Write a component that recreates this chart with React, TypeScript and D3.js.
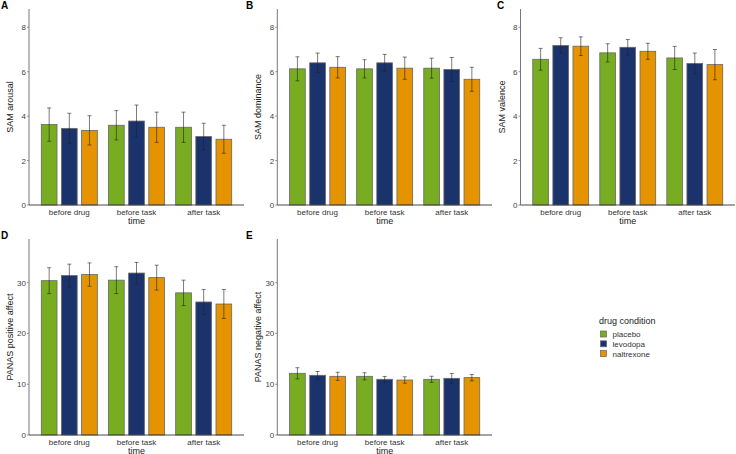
import * as React from 'react'
import * as d3 from 'd3'

const times = ['before drug', 'before task', 'after task']
const conditions = ['placebo', 'levodopa', 'naltrexone']
const colors = ['#78AD22', '#1B336D', '#E59400']

// means [time][condition], err = half width of the error bar
const arousalMean = [[3.62, 3.45, 3.36], [3.59, 3.78, 3.5], [3.5, 3.08, 2.96]]
const arousalErr = [[0.75, 0.68, 0.66], [0.66, 0.72, 0.68], [0.68, 0.6, 0.63]]
const dominanceMean = [[6.13, 6.4, 6.2], [6.13, 6.4, 6.16], [6.16, 6.1, 5.66]]
const dominanceErr = [[0.54, 0.44, 0.48], [0.41, 0.38, 0.5], [0.45, 0.54, 0.54]]
const valenceMean = [[6.56, 7.18, 7.15], [6.85, 7.1, 6.92], [6.62, 6.37, 6.32]]
const valenceErr = [[0.49, 0.35, 0.42], [0.41, 0.35, 0.36], [0.52, 0.47, 0.68]]
const posMean = [[30.4, 31.4, 31.6], [30.5, 31.9, 31.0], [28.0, 26.2, 25.8]]
const posErr = [[2.55, 2.25, 2.3], [2.65, 2.1, 2.45], [2.5, 2.45, 2.85]]
const negMean = [[12.15, 11.76, 11.56], [11.56, 10.97, 10.83], [10.97, 11.16, 11.3]]
const negErr = [[1.1, 0.75, 0.8], [0.7, 0.56, 0.63], [0.6, 0.95, 0.63]]

const samTicks = [0, 2, 4, 6, 8]
const panasTicks = [0, 10, 20, 30]

const font = '"Liberation Sans", Arial, sans-serif'

interface PanelProps {
  letter: string
  label: string
  mean: number[][]
  err: number[][]
  ticks: number[]
  yMax: number
  x0: number
  x1: number
  y0: number
  y1: number
  letterX: number
  letterY: number
}

function Panel(p: PanelProps) {
  const band = d3.scaleLinear().domain([0.4, 3.6]).range([p.x0, p.x1])
  const y = d3.scaleLinear().domain([0, p.yMax]).range([p.y0, p.y1])
  const step = band(2) - band(1)
  const slot = (0.9 * step) / 3
  const bw = slot * 0.78
  const bars: any[] = []
  const errs: any[] = []
  p.mean.forEach((row, ti) => {
    row.forEach((v, ci) => {
      const cx = band(ti + 1) - 1.5 * slot + slot * (ci + 0.5)
      bars.push(
        <rect key={`b${ti}${ci}`} x={cx - bw / 2} y={y(v)} width={bw} height={y(0) - y(v)}
          fill={colors[ci]} stroke="#666" strokeWidth={0.8} />
      )
      const e = p.err[ti][ci]
      const hi = y(v + e), lo = y(v - e)
      errs.push(
        <g key={`e${ti}${ci}`} stroke="#222" strokeOpacity={0.85} strokeWidth={0.7}>
          <line x1={cx} x2={cx} y1={hi} y2={lo} />
          <line x1={cx - 2} x2={cx + 2} y1={hi} y2={hi} />
          <line x1={cx - 2} x2={cx + 2} y1={lo} y2={lo} />
        </g>
      )
    })
  })
  const midY = (p.y0 + p.y1) / 2
  return (
    <g fontFamily={font}>
      <text x={p.letterX} y={p.letterY} fontSize={10} fontWeight="bold" fill="#000">{p.letter}</text>
      {bars}
      {errs}
      <line x1={p.x0} x2={p.x0} y1={p.y1} y2={p.y0} stroke="#777" strokeWidth={1} />
      <line x1={p.x0} x2={p.x1} y1={p.y0} y2={p.y0} stroke="#333" strokeWidth={0.9} />
      {p.ticks.map(t => (
        <g key={t}>
          <line x1={p.x0 - 2} x2={p.x0} y1={y(t)} y2={y(t)} stroke="#777" strokeWidth={0.8} />
          <text x={p.x0 - 3} y={y(t) + 3} fontSize={8} textAnchor="end" fill="#444">{t}</text>
        </g>
      ))}
      {times.map((t, i) => (
        <text key={t} x={band(i + 1)} y={p.y0 + 9.5} fontSize={8} textAnchor="middle" fill="#333">{t}</text>
      ))}
      <text x={band(2)} y={p.y0 + 18.5} fontSize={9} textAnchor="middle" fill="#222">time</text>
      <text transform={`translate(${p.x0 - 16},${midY}) rotate(-90)`} fontSize={9}
        textAnchor="middle" fill="#222">{p.label}</text>
    </g>
  )
}

export default function App() {
  const top = { y0: 205, y1: 9 }
  const bot = { y0: 435, y1: 239 }
  const samMax = (205 - 9) / ((205 - 27.3) / 8)
  const panasMax = (435 - 239) / ((435 - 282.7) / 30)
  return (
    <svg width={736} height={454} style={{ position: 'absolute', left: 0, top: 0, background: '#fff' }}>
      <rect width={736} height={454} fill="#fff" />
      <Panel letter="A" label="SAM arousal" mean={arousalMean} err={arousalErr} ticks={samTicks}
        yMax={samMax} x0={29} x1={244} {...top} letterX={1} letterY={9} />
      <Panel letter="B" label="SAM dominance" mean={dominanceMean} err={dominanceErr} ticks={samTicks}
        yMax={samMax} x0={277.3} x1={492} {...top} letterX={246} letterY={9} />
      <Panel letter="C" label="SAM valence" mean={valenceMean} err={valenceErr} ticks={samTicks}
        yMax={samMax} x0={520.5} x1={735} {...top} letterX={497} letterY={9} />
      <Panel letter="D" label="PANAS positive affect" mean={posMean} err={posErr} ticks={panasTicks}
        yMax={panasMax} x0={29} x1={244} {...bot} letterX={1} letterY={239} />
      <Panel letter="E" label="PANAS negative affect" mean={negMean} err={negErr} ticks={panasTicks}
        yMax={panasMax} x0={277.3} x1={492} {...bot} letterX={246} letterY={239} />
      <g fontFamily={font}>
        <text x={599} y={324} fontSize={9} fill="#222">drug condition</text>
        {conditions.map((c, i) => (
          <g key={c}>
            <rect x={600.5} y={331 + i * 9.8} width={6} height={6} fill={colors[i]} stroke="#666" strokeWidth={0.7} />
            <text x={612.5} y={337 + i * 9.8} fontSize={8} fill="#333">{c}</text>
          </g>
        ))}
      </g>
    </svg>
  )
}
